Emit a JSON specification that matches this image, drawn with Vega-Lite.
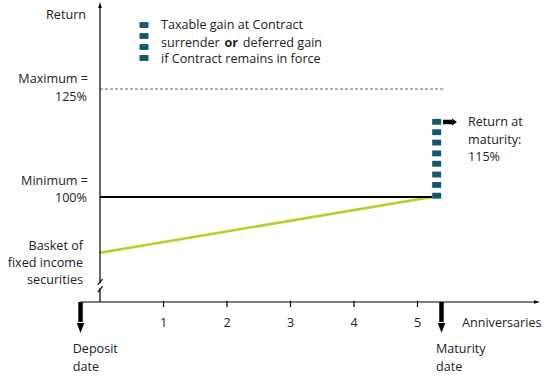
{
  "$schema": "https://vega.github.io/schema/vega-lite/v6.json",
  "width": 551,
  "height": 376,
  "padding": 0,
  "autosize": {"type": "fit", "contains": "padding"},
  "background": "white",
  "config": {"view": {"stroke": null}, "text": {"font": "Open Sans", "fontSize": 12.6, "color": "#222222", "baseline": "middle"}},
  "datasets": {
    "axisSegs": [
      {"part": "x-axis", "x": -0.307, "y": 75.694, "x2": 6.866, "y2": 75.694},
      {"part": "y-axis lower", "x": 0, "y": 75.694, "x2": 0, "y2": 78.9},
      {"part": "y-axis upper", "x": 0, "y": 80.1, "x2": 0, "y2": 143.98},
      {"part": "break 1", "x": -0.035, "y": 79.7, "x2": 0.04, "y2": 81.0},
      {"part": "break 2", "x": -0.035, "y": 78.0, "x2": 0.04, "y2": 79.3},
      {"part": "tick 1", "x": 1, "y": 75.995, "x2": 1, "y2": 74.537},
      {"part": "tick 2", "x": 2, "y": 75.995, "x2": 2, "y2": 74.537},
      {"part": "tick 3", "x": 3, "y": 75.995, "x2": 3, "y2": 74.537},
      {"part": "tick 4", "x": 4, "y": 75.995, "x2": 4, "y2": 74.537},
      {"part": "tick 5", "x": 5, "y": 75.995, "x2": 5, "y2": 74.537}
    ],
    "maximum": [{"x": 0, "y": 125, "x2": 5.402, "y2": 125}],
    "minimum": [{"x": 0, "y": 100, "x2": 5.228, "y2": 100}],
    "basket": [{"x": 0, "y": 87.1, "x2": 5.228, "y2": 100}],
    "shafts": [
      {"name": "deposit", "x": -0.307, "y": 75.694, "x2": -0.307, "y2": 71.065},
      {"name": "maturity", "x": 5.378, "y": 75.694, "x2": 5.378, "y2": 71.065},
      {"name": "return", "x": 5.402, "y": 117.361, "x2": 5.543, "y2": 117.361}
    ],
    "downHeads": [
      {"name": "deposit", "x": -0.307, "y": 69.676},
      {"name": "maturity", "x": 5.378, "y": 69.676}
    ],
    "returnHead": [{"x": 5.583, "y": 117.361}],
    "xHead": [{"x": 6.882, "y": 75.694}],
    "yHead": [{"x": 0, "y": 144.444}],
    "gainSquares": [
      {"x": 5.302, "y": 117.4}, {"x": 5.302, "y": 115.0}, {"x": 5.302, "y": 112.6}, {"x": 5.302, "y": 110.1},
      {"x": 5.302, "y": 107.7}, {"x": 5.302, "y": 105.2}, {"x": 5.302, "y": 102.8}, {"x": 5.302, "y": 100.3},
      {"x": 0.693, "y": 139.81}, {"x": 0.693, "y": 137.27}, {"x": 0.693, "y": 134.72}, {"x": 0.693, "y": 132.18}
    ],
    "leftText": [
      {"x": 0.961, "y": 139.81, "label": "Taxable gain at Contract"},
      {"x": 0.961, "y": 135.76, "label": "surrender"},
      {"x": 2.25, "y": 135.76, "label": "deferred gain"},
      {"x": 0.961, "y": 131.94, "label": "if Contract remains in force"},
      {"x": 5.795, "y": 117.29, "label": "Return at"},
      {"x": 5.795, "y": 113.19, "label": "maturity:"},
      {"x": 5.795, "y": 109.33, "label": "115%"},
      {"x": 5.701, "y": 70.833, "label": "Anniversaries"},
      {"x": -0.43, "y": 64.745, "label": "Deposit"},
      {"x": -0.43, "y": 60.718, "label": "date"},
      {"x": 5.291, "y": 64.745, "label": "Maturity"},
      {"x": 5.291, "y": 60.718, "label": "date"}
    ],
    "boldText": [{"x": 1.96, "y": 135.76, "label": "or"}],
    "rightText": [
      {"x": -0.22, "y": 142.13, "label": "Return"},
      {"x": -0.189, "y": 127.2, "label": "Maximum ="},
      {"x": -0.205, "y": 123.1, "label": "125%"},
      {"x": -0.189, "y": 103.7, "label": "Minimum ="},
      {"x": -0.205, "y": 99.85, "label": "100%"},
      {"x": -0.268, "y": 88.7, "label": "Basket of"},
      {"x": -0.268, "y": 84.79, "label": "fixed income"},
      {"x": -0.268, "y": 80.9, "label": "securities"}
    ],
    "tickLabels": [
      {"x": 1, "y": 70.833, "label": "1"},
      {"x": 2, "y": 70.833, "label": "2"},
      {"x": 3, "y": 70.833, "label": "3"},
      {"x": 4, "y": 70.833, "label": "4"},
      {"x": 5, "y": 70.833, "label": "5"}
    ]
  },
  "encoding": {
    "x": {"field": "x", "type": "quantitative", "scale": {"domain": [-1.5748, 7.1024], "nice": false, "zero": false}, "axis": null},
    "y": {"field": "y", "type": "quantitative", "scale": {"domain": [58.565, 145.602], "nice": false, "zero": false}, "axis": null}
  },
  "layer": [
    {"data": {"name": "maximum"}, "mark": {"type": "rule", "color": "#9a9a9a", "strokeWidth": 1.5, "strokeDash": [3, 2]}, "encoding": {"x2": {"field": "x2"}, "y2": {"field": "y2"}}},
    {"data": {"name": "basket"}, "mark": {"type": "rule", "color": "#bccb25", "strokeWidth": 2.5}, "encoding": {"x2": {"field": "x2"}, "y2": {"field": "y2"}}},
    {"data": {"name": "minimum"}, "mark": {"type": "rule", "color": "#000000", "strokeWidth": 2}, "encoding": {"x2": {"field": "x2"}, "y2": {"field": "y2"}}},
    {"data": {"name": "axisSegs"}, "mark": {"type": "rule", "color": "#000000", "strokeWidth": 1.2}, "encoding": {"x2": {"field": "x2"}, "y2": {"field": "y2"}}},
    {"data": {"name": "shafts"}, "mark": {"type": "rule", "color": "#000000", "strokeWidth": 4.5}, "encoding": {"x2": {"field": "x2"}, "y2": {"field": "y2"}}},
    {"data": {"name": "downHeads"}, "mark": {"type": "point", "filled": true, "opacity": 1, "color": "#000000", "size": 100, "shape": "M-0.75,-1L0.75,-1L0,1Z"}},
    {"data": {"name": "returnHead"}, "mark": {"type": "point", "filled": true, "opacity": 1, "color": "#000000", "size": 64, "shape": "M-0.6,-0.85L0.6,0L-0.6,0.85Z"}},
    {"data": {"name": "xHead"}, "mark": {"type": "point", "filled": true, "opacity": 1, "color": "#000000", "size": 36, "shape": "M-1,-0.6L1,0L-1,0.6Z"}},
    {"data": {"name": "yHead"}, "mark": {"type": "point", "filled": true, "opacity": 1, "color": "#000000", "size": 36, "shape": "M-0.6,1L0,-1L0.6,1Z"}},
    {"data": {"name": "gainSquares"}, "mark": {"type": "point", "filled": true, "opacity": 1, "color": "#0f5a6e", "size": 81, "shape": "M-1,-0.65L1,-0.65L1,0.65L-1,0.65Z"}},
    {"data": {"name": "leftText"}, "mark": {"type": "text", "align": "left"}, "encoding": {"text": {"field": "label"}}},
    {"data": {"name": "boldText"}, "mark": {"type": "text", "align": "left", "fontWeight": "bold"}, "encoding": {"text": {"field": "label"}}},
    {"data": {"name": "rightText"}, "mark": {"type": "text", "align": "right"}, "encoding": {"text": {"field": "label"}}},
    {"data": {"name": "tickLabels"}, "mark": {"type": "text", "align": "center"}, "encoding": {"text": {"field": "label"}}}
  ]
}
